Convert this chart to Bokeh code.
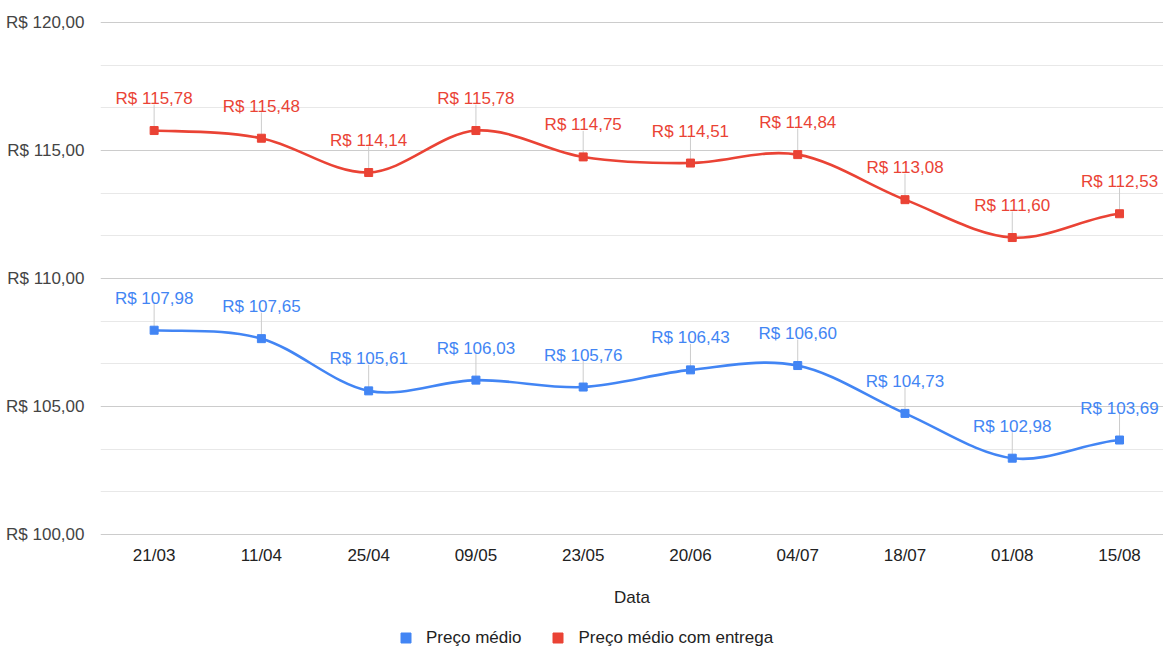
import numpy as np
from bokeh.plotting import figure
from bokeh.layouts import column
from bokeh.models import FixedTicker, Legend, LegendItem
from bokeh.core.properties import value
from bokeh.embed import file_html
from bokeh.resources import INLINE

# ---- data ----
dates = ["21/03", "11/04", "25/04", "09/05", "23/05", "20/06", "04/07", "18/07", "01/08", "15/08"]
preco_medio = [107.98, 107.65, 105.61, 106.03, 105.76, 106.43, 106.60, 104.73, 102.98, 103.69]
preco_entrega = [115.78, 115.48, 114.14, 115.78, 114.75, 114.51, 114.84, 113.08, 111.60, 112.53]
series_names = ["Preço médio", "Preço médio com entrega"]
y_ticks = [100, 105, 110, 115, 120]
y_tick_labels = ["R$ 100,00", "R$ 105,00", "R$ 110,00", "R$ 115,00", "R$ 120,00"]
x_title = "Data"

BLUE = "#4285F4"
RED = "#EA4335"
FONT = "Liberation Sans"
FS = "17px"

W = 1163
H_MAIN, H_LEG = 618, 30
PAD = 0.04
px_per_unit = 25.6
TOP, LEFT = 22 - round(PAD * px_per_unit), 100
FRAME_H = round((y_ticks[-1] - y_ticks[0] + 2 * PAD) * px_per_unit)
BOTTOM = H_MAIN - TOP - FRAME_H

x = list(range(len(dates)))

p = figure(width=W, height=H_MAIN, output_backend="svg", toolbar_location=None,
           x_range=(-0.5, 9.41), y_range=(y_ticks[0] - PAD, y_ticks[-1] + PAD),
           min_border_left=LEFT, min_border_right=0, min_border_top=TOP,
           min_border_bottom=BOTTOM)
p.outline_line_color = None
p.background_fill_color = "white"

# axes
minor = [y_ticks[0] + k * 5 / 3 for k in range(13) if k % 3 != 0]
p.yaxis.ticker = FixedTicker(ticks=y_ticks, minor_ticks=minor)
p.yaxis.major_label_overrides = {t: l for t, l in zip(y_ticks, y_tick_labels)}
p.xaxis.ticker = FixedTicker(ticks=x)
p.xaxis.major_label_overrides = {i: d for i, d in zip(x, dates)}
for ax in (p.xaxis, p.yaxis):
    ax.axis_line_color = None
    ax.major_tick_line_color = None
    ax.minor_tick_line_color = None
    ax.major_label_text_font = FONT
    ax.major_label_text_font_size = FS
p.yaxis.major_label_text_color = "#444444"
p.xaxis.major_label_text_color = "#222222"
p.yaxis.major_label_standoff = 10
p.xaxis.major_label_standoff = 4
p.xaxis.axis_label = x_title
p.xaxis.axis_label_text_font = FONT
p.xaxis.axis_label_text_font_size = FS
p.xaxis.axis_label_text_font_style = "normal"
p.xaxis.axis_label_text_color = "#222222"
p.xaxis.axis_label_standoff = 20

p.xgrid.grid_line_color = None
p.ygrid.grid_line_color = "#cccccc"
p.ygrid.minor_grid_line_color = "#e8e8e8"


def fmt(v):
    return "R$ " + f"{v:.2f}".replace(".", ",")


def smooth(ys):
    n = len(ys)
    ext = [ys[0]] + list(ys) + [ys[-1]]
    x0, y0, x1, y1, cx0, cy0, cx1, cy1 = [], [], [], [], [], [], [], []
    for i in range(n - 1):
        pm, p0, p1, p2 = ext[i], ext[i + 1], ext[i + 2], ext[i + 3]
        x0.append(i); y0.append(p0)
        x1.append(i + 1); y1.append(p1)
        cx0.append(i + 1 / 3); cy0.append(p0 + (p1 - pm) / 6)
        cx1.append(i + 2 / 3); cy1.append(p1 - (p2 - p0) / 6)
    return x0, y0, x1, y1, cx0, cy0, cx1, cy1


stem = 26 / px_per_unit
for ys, col in ((preco_medio, BLUE), (preco_entrega, RED)):
    p.segment(x, ys, x, [v + stem for v in ys], line_color="#cccccc", line_width=1)
    x0, y0, x1, y1, cx0, cy0, cx1, cy1 = smooth(ys)
    p.bezier(x0=x0, y0=y0, x1=x1, y1=y1, cx0=cx0, cy0=cy0, cx1=cx1, cy1=cy1,
             line_color=col, line_width=2.6)
    p.scatter(x, ys, marker="square", size=8, fill_color=col, line_color=col)
    p.text(x, ys, text=[fmt(v) for v in ys], y_offset=-32, text_align="center",
           text_baseline="middle", text_font=value(FONT), text_font_size=FS,
           text_color=col)

# ---- legend strip ----
lf = figure(width=W, height=H_LEG, output_backend="svg", toolbar_location=None,
            x_range=(0, 1), y_range=(0, 1), min_border=0,
            x_axis_location=None, y_axis_location=None)
lf.grid.visible = False
lf.outline_line_color = None
leg_r = [lf.scatter(x=[-5], y=[-5], marker="square", size=10, fill_color=c, line_color=c)
         for c in (BLUE, RED)]
legend = Legend(items=[LegendItem(label=series_names[i], renderers=[leg_r[i]]) for i in range(2)],
                orientation="horizontal", location=(293, -2),
                border_line_color=None, background_fill_alpha=0,
                label_text_font=FONT, label_text_font_size=FS,
                label_text_color="#222222", glyph_width=25, glyph_height=25,
                label_standoff=8, spacing=24, padding=0, margin=0)
lf.add_layout(legend, "center")

layout = column(p, lf, spacing=0)
open("out.html", "w").write(file_html(layout, INLINE))
